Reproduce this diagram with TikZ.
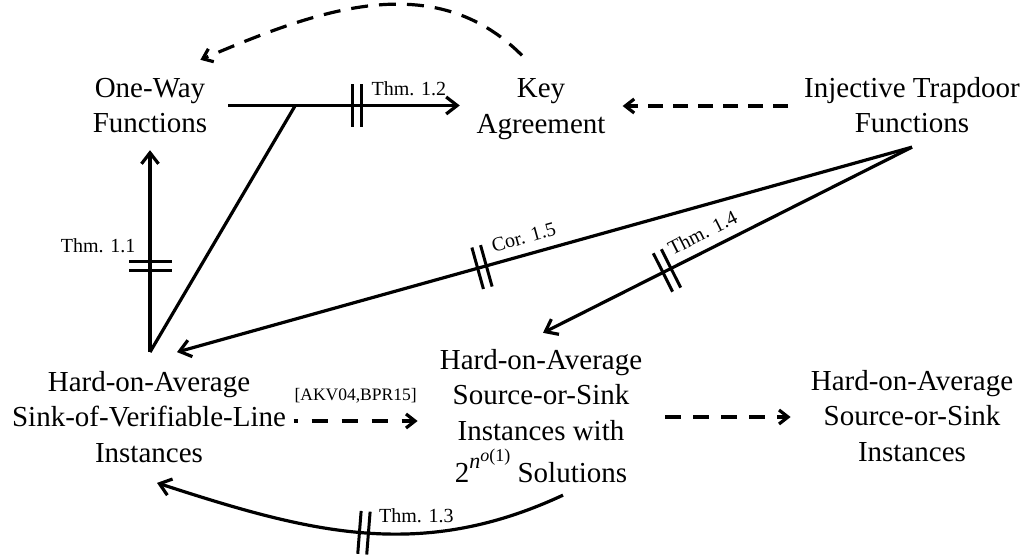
\documentclass[tikz,border=0pt]{standalone}
\usepackage{fontspec}
\setmainfont{Liberation Serif}
\usetikzlibrary{arrows.meta,calc,decorations.markings}
\tikzset{
  lw/.style={line width=3.2pt},
  arr/.style={lw,-{Straight Barb[length=11pt,width=17pt]}},
  rarr/.style={lw,{Straight Barb[length=11pt,width=17pt]}-},
  darr/.style={lw,dash pattern=on 15pt off 10pt,-{Straight Barb[length=9pt,width=14pt]}},
  plainline/.style={lw},
  bars/.style={postaction={decorate},decoration={markings,mark=at position #1 with {\draw[-,solid,line width=3pt] (-4.5pt,-21.5pt) -- (-4.5pt,21.5pt) (4.5pt,-21.5pt) -- (4.5pt,21.5pt);}}},
  txt/.style={align=center,inner sep=0pt,font=\fontsize{29}{35.5}\selectfont},
  small/.style={inner sep=0pt,font=\fontsize{20}{24}\selectfont},
}
\newcommand{\twoexp}{2\raisebox{14pt}{\fontsize{22}{22}\selectfont\itshape n\raisebox{7pt}{\fontsize{18}{18}\selectfont o\upshape(1)}}}
\begin{document}
\begin{tikzpicture}[x=1pt,y=1pt]
\useasboundingbox (0,0) rectangle (1028,557);
\node[txt] (owf) at (150,451.5) {One-Way\\Functions};
\node[txt] (ka) at (541,448) {Key\\Agreement};
\node[txt] (itf) at (912,452) {Injective Trapdoor\\Functions};
\node[txt] (svl) at (149,140) {Hard-on-Average\\Sink-of-Verifiable-Line\\Instances};
\node[txt] (mid) at (541,141) {Hard-on-Average\\Source-or-Sink\\Instances with\\[7pt]\twoexp{} Solutions};
\node[txt] (ss) at (912,141) {Hard-on-Average\\Source-or-Sink\\Instances};

\draw[darr,dash pattern=on 17pt off 11pt] ($(ka.north)+(-19,23)$) to[out=135,in=23] ($(owf.north east)+(-7,18)$);
\draw[arr,bars=0.554] ($(owf.east)+(21,0)$) -- coordinate[pos=0.289] (j) node[small,pos=0.612,anchor=base west,yshift=10pt]{Thm. 1.2} ($(ka.west |- owf.east)+(-16.6,0)$);
\draw[darr] ($(itf.west)+(-16,-1)$) -- ($(ka.east |- itf.west)+(17,-1)$);
\draw[plainline] ($(svl.north)+(1,19)$) -- (j);
\draw[arr,bars=0.424] ($(svl.north)+(1,19)$) -- node[small,pos=0.493,anchor=base east,xshift=-13pt]{Thm. 1.1} ($(owf.south)+(0,-17)$);
\draw[rarr,bars=0.415] ($(svl.north)+(28,19)$) -- node[small,pos=0.433,sloped,anchor=south west,inner ysep=9pt]{Cor. 1.5} ($(itf.south)+(0,-14)$);
\draw[rarr,bars=0.336] ($(mid.north)+(2,16)$) -- node[small,pos=0.36,sloped,anchor=south west,inner ysep=9pt]{Thm. 1.4} ($(itf.south)+(0,-14)$);
\draw[darr,dash pattern=on 16pt off 14pt,dash phase=12pt] ($(svl.east)+(7.5,-4)$) -- node[font=\fontsize{17.5}{21}\selectfont,inner sep=0pt,pos=0.5,anchor=base,yshift=20pt]{[AKV04,BPR15]} ($(mid.west)+(-22,-5)$);
\draw[darr,dash pattern=on 16pt off 12pt] ($(mid.east)+(23,-1)$) -- ($(ss.west)+(-20,-1)$);
\draw[arr,bars=0.49] ($(mid.south)+(22,-12)$) to[out=205,in=-18] node[small,pos=0.49,anchor=base west,xshift=11pt,yshift=10pt]{Thm. 1.3} ($(svl.south)+(8,-20)$);
\end{tikzpicture}
\end{document}
